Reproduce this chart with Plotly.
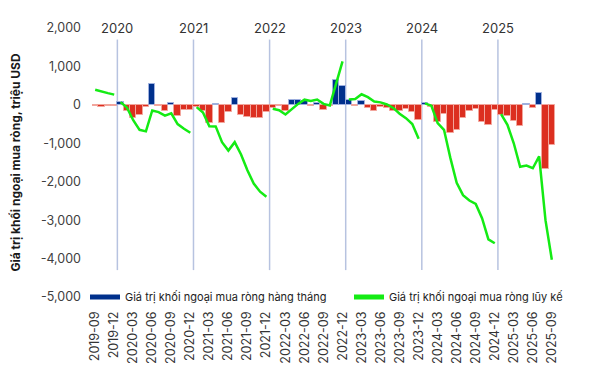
import plotly.graph_objects as go
import pandas as pd

# ---- data ----
months = [p.strftime("%Y-%m") for p in pd.period_range("2019-09", "2025-09", freq="M")]

monthly_2019 = [-20, -60, -20, -30]
monthly_2020 = [70, -150, -340, -275, -60, 544, -35, -147, 52, -302, -130, -130]
monthly_2021 = [-60, -150, -466, 25, -466, -173, 180, -260, -320, -345, -345, -190]
monthly_2022 = [-86, -30, -147, 130, 130, 100, -35, 43, -140, -20, 650, 500]
monthly_2023 = [130, -20, 95, -70, -147, -45, -90, -147, -160, -100, -175, -400]
monthly_2024 = [40, -60, -450, -225, -734, -660, -337, -168, -104, -440, -515, -130]
monthly_2025 = [-270, -280, -430, -550, 20, -86, 311, -1658, -1054]

cum_2019 = [395, 340, 305, 267]
cum_2020 = [70, -70, -400, -650, -690, -147, -190, -280, -220, -500, -620, -725]
cum_2021 = [-60, -200, -555, -560, -970, -1190, -970, -1290, -1700, -2050, -2260, -2390]
cum_2022 = [-100, -140, -250, -105, 25, 135, 100, 140, 25, -15, 585, 1130]
cum_2023 = [138, 150, 275, 200, 85, 65, 10, -80, -230, -345, -500, -880]
cum_2024 = [40, -20, -475, -650, -1380, -2030, -2350, -2490, -2580, -2950, -3500, -3600]
cum_2025 = [-240, -520, -1000, -1610, -1580, -1650, -1340, -3000, -4030]

years = ["2020", "2021", "2022", "2023", "2024", "2025"]
tick_labels = ["2019-09", "2019-12", "2020-03", "2020-06", "2020-09", "2020-12",
               "2021-03", "2021-06", "2021-09", "2021-12", "2022-03", "2022-06",
               "2022-09", "2022-12", "2023-03", "2023-06", "2023-09", "2023-12",
               "2024-03", "2024-06", "2024-09", "2024-12", "2025-03", "2025-06",
               "2025-09"]

monthly = (monthly_2019 + monthly_2020 + monthly_2021 + monthly_2022 +
           monthly_2023 + monthly_2024 + monthly_2025)
cum_segments = [cum_2019, cum_2020, cum_2021, cum_2022, cum_2023, cum_2024, cum_2025]

# ---- styling ----
BLUE = "#00308C"
RED = "#DC2F20"
GREEN = "#14EB14"
FONT = "Inter"

# page body has an 8px default margin -> figure is slightly smaller than window
W, H = 597, 368
ML, MR, MT, MB = 84, 50, 19, 78
PW = W - ML - MR

xidx = list(range(len(months)))
bar_colors = [BLUE if v >= 0 else RED for v in monthly]
bar_lines = ["#9FB0DE" if v >= 0 else "#F2A59C" for v in monthly]

fig = go.Figure()
fig.add_trace(go.Bar(
    x=xidx, y=monthly, customdata=months,
    marker=dict(color=bar_colors, line=dict(color=bar_lines, width=1)),
    showlegend=False,
    hovertemplate="%{customdata}: %{y}<extra></extra>",
))

# cumulative line, one segment per year
lx, ly = [], []
pos = 0
for seg in cum_segments:
    lx += list(range(pos, pos + len(seg))) + [None]
    ly += seg + [None]
    pos += len(seg)
fig.add_trace(go.Scatter(
    x=lx, y=ly, mode="lines", line=dict(color=GREEN, width=2.5),
    connectgaps=False, name="Giá trị khối ngoại mua ròng lũy kế", showlegend=False,
))

# legend entries (two separate legends, placed like the reference)
fig.add_trace(go.Scatter(x=[None], y=[None], mode="lines",
                         line=dict(color=BLUE, width=8),
                         name="Giá trị khối ngoại mua ròng hàng tháng",
                         legend="legend"))
fig.add_trace(go.Scatter(x=[None], y=[None], mode="lines",
                         line=dict(color=GREEN, width=2.5),
                         name="Giá trị khối ngoại mua ròng lũy kế",
                         legend="legend2"))

# year separators
pos = len(cum_2019)
for yr, seg in zip(years, cum_segments[1:]):
    b = pos - 0.5
    fig.add_shape(type="line", x0=b, x1=b, y0=-4300, y1=1700, xref="x", yref="y",
                  line=dict(color="#B7C3E0", width=1.5), layer="below")
    fig.add_annotation(x=b, y=2000, xref="x", yref="y", text=yr, showarrow=False,
                       font=dict(size=13, color="#333333", family=FONT),
                       xanchor="center", yanchor="middle")
    pos += len(seg)

fig.add_annotation(x=-(ML - 7) / PW, y=0.5, xref="paper", yref="paper",
                   text="<b>Giá trị khối ngoại mua ròng, triệu USD</b>",
                   textangle=-90, showarrow=False,
                   font=dict(size=12, color="#1a1a1a", family=FONT),
                   xanchor="center", yanchor="middle")

yt = [-5000, -4000, -3000, -2000, -1000, 0, 1000, 2000]
legend_common = dict(orientation="h", y=0.0, xanchor="left", yanchor="middle",
                     bgcolor="rgba(0,0,0,0)", font=dict(size=11, color="#222222"),
                     itemsizing="constant")
fig.update_layout(
    width=W, height=H,
    margin=dict(l=ML, r=MR, t=MT, b=MB),
    paper_bgcolor="white", plot_bgcolor="white",
    bargap=0,
    font=dict(family=FONT, size=12, color="#333333"),
    xaxis=dict(range=[-0.5, 72.5], tickmode="array",
               tickvals=[months.index(t) for t in tick_labels], ticktext=tick_labels,
               tickangle=-90, tickfont=dict(size=12.5, color="#333333"),
               showgrid=False, zeroline=False, showline=False, ticks="",
               ticklabelstandoff=11),
    yaxis=dict(range=[-5000, 2000], tickmode="array", tickvals=yt,
               ticktext=[f"{v:,}" for v in yt],
               tickfont=dict(size=12.5, color="#404040"),
               showgrid=False, zeroline=False, showline=False, ticks="",
               ticklabelstandoff=10),
    legend=dict(x=(77 - ML) / PW, **legend_common),
    legend2=dict(x=(341 - ML) / PW, **legend_common),
)

fig.write_html("out.html")
